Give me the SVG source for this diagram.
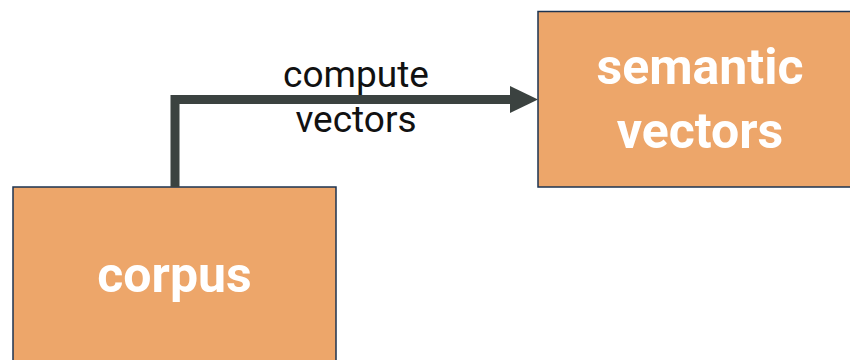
<svg xmlns="http://www.w3.org/2000/svg" width="850" height="360" viewBox="0 0 850 360">
  <defs>
    <style>
      .box { fill: #eda66a; stroke: #1d3350; stroke-width: 1.5; }
      .node-label { font-family: Roboto, "Liberation Sans", sans-serif; font-weight: bold; font-size: 50px; fill: #ffffff; text-anchor: middle; }
      .edge { fill: none; stroke: #3b4240; stroke-width: 9; }
      .arrowhead { fill: #3b4240; }
      .edge-label { font-family: Roboto, "Liberation Sans", sans-serif; font-size: 37px; fill: #111111; text-anchor: middle; }
    </style>
  </defs>

  <g id="corpus">
    <rect class="box" x="13" y="187" width="323" height="178"/>
    <text class="node-label" x="174.5" y="292">corpus</text>
  </g>

  <g id="semantic-vectors">
    <rect class="box" x="538" y="11.5" width="324" height="175.5"/>
    <text class="node-label" x="700" y="84">semantic</text>
    <text class="node-label" x="700" y="148">vectors</text>
  </g>

  <g id="connectors">
    <path class="edge" d="M175,187 V99.5 H514"/>
    <path class="arrowhead" d="M510,86 L538,99.5 L510,113 Z"/>
    <text class="edge-label" x="356" y="87">compute</text>
    <text class="edge-label" x="356" y="132">vectors</text>
  </g>
</svg>
